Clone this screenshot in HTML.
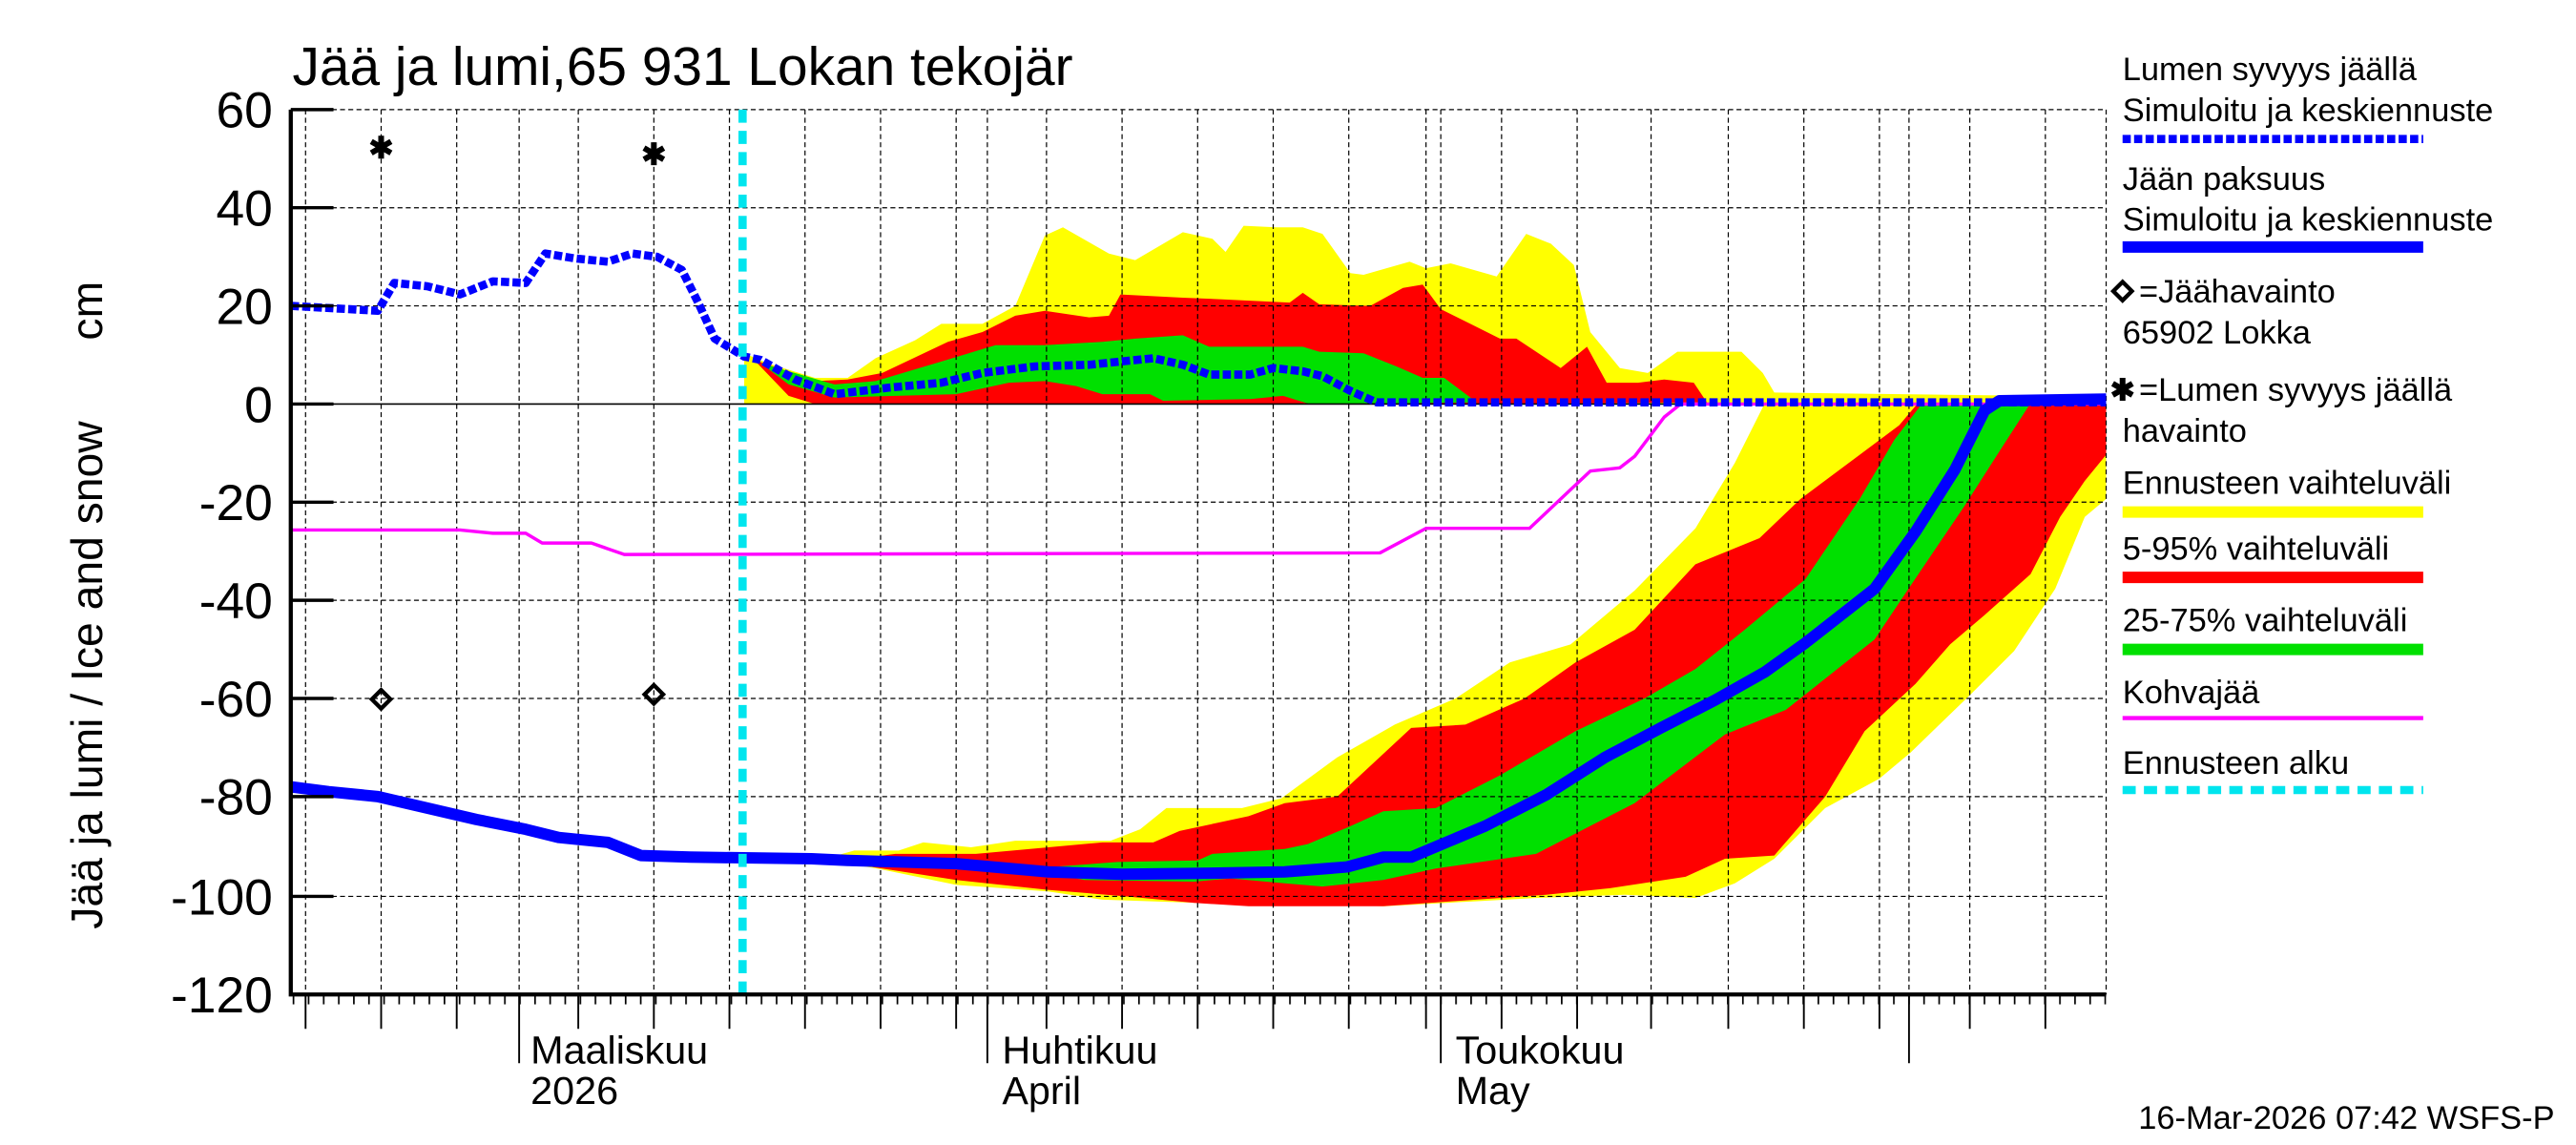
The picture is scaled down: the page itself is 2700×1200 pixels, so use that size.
<!DOCTYPE html>
<html><head><meta charset="utf-8"><style>html,body{margin:0;padding:0;background:#fff}svg{display:block}</style></head><body>
<svg width="2700" height="1200" viewBox="0 0 1568 700" preserveAspectRatio="none" xmlns="http://www.w3.org/2000/svg" font-family="Liberation Sans, sans-serif">
<defs>
<clipPath id="c"><rect x="177" y="67" width="1105" height="541"/></clipPath>
<pattern id="dt" patternUnits="userSpaceOnUse" x="316" y="608" width="9.19" height="8"><rect x="0" y="0" width="1" height="8" fill="#000"/></pattern>
</defs>
<rect width="1568" height="700" fill="#fff"/>
<g clip-path="url(#c)">
<polygon fill="#ffff00" points="453,216 467,222 496,231 516,231 533,219 557,208 573,198 598,198 618,187 636,144 647,139 675,155 691,159 720,142 738,146 746,154 757,138 777,139 793,139 805,143 822,167 830,168 858,160 868,164 883,161 911,169 929,143 944,149 958,162 968,203 986,225 1003,228 1021,215 1060,215 1073,228 1080,240 1240,242 1250,247 453,247"/>
<polygon fill="#ff0000" points="459,220 496,233 516,232 537,228 577,209 598,203 618,193 636,190 663,194 675,193 682,180 720,182 744,183 785,185 793,179 803,186 834,187 854,176 866,174 877,189 895,198 913,207 923,207 950,225 966,212 978,234 997,234 1013,232 1031,234 1039,246 900,247 496,247 480,242"/>
<polygon fill="#00e000" points="463,222 508,235 533,233 573,221 606,211 636,211 671,209 691,207 720,205 736,212 773,212 793,212 803,215 830,216 850,224 866,231 879,231 899,246 797,247 781,242 761,244 708,245 700,241 671,241 655,236 636,233 614,234 582,241 508,243 480,235"/>
<polygon fill="#ffff00" points="509,523 520,520 547,520 562,515 591,518 618,514 649,514 676,514 694,507 710,494 756,494 780,488 814,463 849,443 886,427 919,405 956,394 995,361 1032,323 1056,283 1074,247 1282,247 1282,305 1269,316 1251,360 1226,398 1199,425 1163,460 1144,476 1111,494 1080,525 1056,540 1032,549 989,547 935,549 898,551 843,554 805,553 729,552 671,550 638,545 582,541 534,531 509,527"/>
<polygon fill="#ff0000" points="530,524 545,522 594,522 627,519 671,515 702,515 718,508 760,499 782,491 814,487 859,445 892,443 928,427 959,405 995,385 1032,345 1071,329 1096,305 1132,278 1156,260 1167,247 1282,247 1282,278 1269,294 1254,316 1236,351 1208,376 1187,394 1166,418 1135,447 1111,487 1080,523 1050,525 1026,536 980,543 941,547 842,554 760,554 727,552 685,548 638,544 582,538 531,530"/>
<polygon fill="#00e000" points="640,530 680,527 729,526 738,522 782,519 796,516 820,506 842,496 874,494 913,474 959,447 1001,427 1032,409 1062,385 1099,354 1132,305 1153,269 1169,248 1235,248 1217,276 1196,309 1163,358 1141,391 1087,434 1050,449 995,491 935,522 874,531 842,538 805,542 782,540 749,537 727,539 660,538 640,534"/>
</g>
<g stroke="#000" stroke-width="0.7" stroke-dasharray="3,2" fill="none">
<path d="M177,67H1282M177,127H1282M177,187H1282M177,307H1282M177,367H1282M177,427H1282M177,487H1282M177,548H1282"/>
<path d="M186,67V608M232,67V608M278,67V608M316,67V608M352,67V608M398,67V608M444,67V608M490,67V608M536,67V608M582,67V608M601,67V608M637,67V608M683,67V608M729,67V608M775,67V608M821,67V608M868,67V608M877,67V608M914,67V608M960,67V608M1005,67V608M1052,67V608M1098,67V608M1144,67V608M1162,67V608M1199,67V608M1245,67V608M1282,67V608"/>
</g>
<line x1="177" x2="1282" y1="247" y2="247" stroke="#000" stroke-width="1"/>
<g clip-path="url(#c)" fill="none" stroke-linejoin="round">
<polyline stroke="#ff00ff" stroke-width="2" points="177,324 280,324 300,326 320,326 330,332 360,332 380,339 840,338 868,323 931,323 968,288 986,286 995,279 1013,255 1023,247 1282,247"/>
<polyline stroke="#0000ff" stroke-width="7" points="177,481 200,484 230,487 260,494 290,501 320,507 340,512 370,515 390,523 420,524 494,525 516,526 582,528 638,533 683,534.5 727,534 782,533 820,530 842,524 859,524 904,505 941,486 977,463 1011,445 1044,428 1074,411 1099,393 1141,360 1166,325 1190,287 1208,251 1217,245 1282,244"/>
<polyline stroke="#0000ff" stroke-width="5" stroke-dasharray="5,2" points="177,187 230,190 240,173 260,175 280,180 300,172 320,173 332,155 350,158 370,160 385,155 400,157 415,165 425,185 435,207 453,218 463,220 484,232 508,241 541,237 573,234 598,228 630,224 663,223 702,219 720,223 736,229 761,229 775,225 793,227 805,230 822,239 838,246 1282,246"/>
</g>
<line x1="452" x2="452" y1="67" y2="608" stroke="#00e5ee" stroke-width="5" stroke-dasharray="8,5"/>
<g stroke="#000" stroke-width="3.5">
<path d="M232,83V97M226,86.5L238,93.5M226,93.5L238,86.5"/>
<path d="M398,87V101M392,90.5L404,97.5M392,97.5L404,90.5"/>
</g>
<rect x="228" y="423.5" width="8" height="8" transform="rotate(45 232 427.5)" fill="none" stroke="#000" stroke-width="2.5"/>
<rect x="394" y="420.5" width="8" height="8" transform="rotate(45 398 424.5)" fill="none" stroke="#000" stroke-width="2.5"/>
<path d="M177,67V608H1282" fill="none" stroke="#000" stroke-width="2.5"/>
<rect x="177" y="608" width="1105" height="6" fill="url(#dt)"/>
<g stroke="#000" stroke-width="1.1">
<path d="M186,608v21M232,608v21M278,608v21M352,608v21M398,608v21M444,608v21M490,608v21M536,608v21M582,608v21M637,608v21M683,608v21M729,608v21M775,608v21M821,608v21M868,608v21M914,608v21M960,608v21M1005,608v21M1052,608v21M1098,608v21M1144,608v21M1199,608v21M1245,608v21"/>
<path d="M316,608v42M601,608v42M877,608v42M1162,608v42"/>
</g>
<path d="M177,67h26M177,127h26M177,187h26M177,247h26M177,307h26M177,367h26M177,427h26M177,487h26M177,548h26" stroke="#000" stroke-width="2"/>
<g font-size="31" text-anchor="end"><text x="166" y="78">60</text><text x="166" y="138">40</text><text x="166" y="198">20</text><text x="166" y="258">0</text><text x="166" y="318">-20</text><text x="166" y="378">-40</text><text x="166" y="438">-60</text><text x="166" y="498">-80</text><text x="166" y="559">-100</text><text x="166" y="619">-120</text></g>
<text x="178" y="52" font-size="33">Jää ja lumi,65 931 Lokan tekojär</text>
<text transform="translate(62,568) rotate(-90)" font-size="27">Jää ja lumi / Ice and snow</text>
<text transform="translate(62,208) rotate(-90)" font-size="27">cm</text>
<g font-size="24"><text x="323" y="650">Maaliskuu</text><text x="323" y="675">2026</text><text x="610" y="650">Huhtikuu</text><text x="610" y="675">April</text><text x="886" y="650">Toukokuu</text><text x="886" y="675">May</text></g>
<text x="1555" y="690" font-size="20" text-anchor="end">16-Mar-2026 07:42 WSFS-P</text>
<g font-size="20">
<text x="1292" y="49">Lumen syvyys jäällä</text><text x="1292" y="74">Simuloitu ja keskiennuste</text>
<text x="1292" y="116">Jään paksuus</text><text x="1292" y="141">Simuloitu ja keskiennuste</text>
<text x="1302" y="185">=Jäähavainto</text><text x="1292" y="210">65902 Lokka</text>
<text x="1302" y="245">=Lumen syvyys jäällä</text><text x="1292" y="270">havainto</text>
<text x="1292" y="302">Ennusteen vaihteluväli</text>
<text x="1292" y="342">5-95% vaihteluväli</text>
<text x="1292" y="386">25-75% vaihteluväli</text>
<text x="1292" y="430">Kohvajää</text>
<text x="1292" y="473">Ennusteen alku</text>
</g>
<line x1="1292" x2="1475" y1="85" y2="85" stroke="#0000ff" stroke-width="5" stroke-dasharray="5,2"/>
<line x1="1292" x2="1475" y1="151" y2="151" stroke="#0000ff" stroke-width="7"/>
<rect x="1288" y="174" width="8" height="8" transform="rotate(45 1292 178)" fill="none" stroke="#000" stroke-width="2.5"/>
<path d="M1292,231V245M1286,234.5L1298,241.5M1286,241.5L1298,234.5" stroke="#000" stroke-width="3.5"/>
<line x1="1292" x2="1475" y1="313" y2="313" stroke="#ffff00" stroke-width="7"/>
<line x1="1292" x2="1475" y1="353" y2="353" stroke="#ff0000" stroke-width="7"/>
<line x1="1292" x2="1475" y1="397" y2="397" stroke="#00e000" stroke-width="7"/>
<line x1="1292" x2="1475" y1="439" y2="439" stroke="#ff00ff" stroke-width="2.5"/>
<line x1="1292" x2="1475" y1="483" y2="483" stroke="#00e5ee" stroke-width="5" stroke-dasharray="8,5"/>
</svg>
</body></html>
